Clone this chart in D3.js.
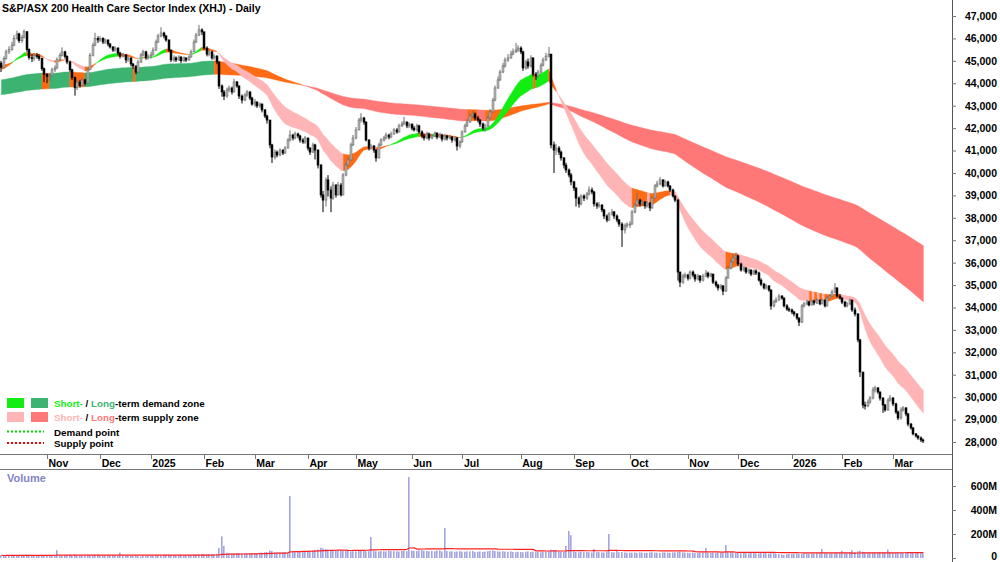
<!DOCTYPE html>
<html>
<head>
<meta charset="utf-8">
<script src="https://cdn.jsdelivr.net/npm/d3@7"></script>
<style>
  body { margin: 0; background: #fff; }
  svg { display: block; font-family: "Liberation Sans", Arial, sans-serif; }
</style>
</head>
<body>
<svg id="chart" width="1000" height="562"></svg>
<script>
// --- DATA --- daily bars per month: [close, high, low], open = previous close
const firstOpen = 44900;
const oct24 = [[44700,45000,44500],[45100,45200,44650],[45400,45500,45050],[45500,45650,45300],[45700,45850,45450],[46000,46150,45650],[46200,46350,45950],[45900,46250,45800],[46050,46150,45800],[46300,46400,46000],[45500,46300,45400],[45150,45550,45050],[45100,45300,44950],[45250,45350,45000],[45200,45350,45100],[45100,45300,45000],[44650,45150,44550],[44400,44700,44050]];
const nov24 = [[44300,44450,44000],[44350,44450,44100],[44600,44700,44300],[44680,44800,44500],[45050,45150,44650],[45250,45350,45000],[45400,45600,45200],[45200,45450,45100],[44950,45250,44850],[44600,45000,44500],[44250,44650,44150],[43800,44300,43450],[44050,44150,43700],[43900,44150,43800],[44150,44250,43850],[44000,44200,43900],[44600,44700,43950],[45250,45350,44600],[45700,45800,45200],[46000,46250,45650],[45930,46100,45800]];
const dec24 = [[46000,46100,45850],[45840,46050,45750],[45930,46000,45750],[45750,45950,45650],[45620,45800,45550],[45480,45650,45400],[45570,45650,45400],[45350,45600,45250],[45210,45400,45100],[45260,45350,45150],[45040,45300,44900],[45130,45200,44950],[44860,45150,44750],[44770,44900,44650],[44500,44800,44400],[44950,45050,44450],[45260,45350,44900],[45400,45500,45200],[45130,45450,45050],[45210,45300,45050]];
const jan25 = [[45260,45400,45100],[45480,45600,45250],[45840,45950,45450],[46110,46200,45800],[46240,46500,46050],[46110,46300,46000],[45930,46150,45850],[45480,45950,45400],[45040,45500,44950],[45130,45250,44950],[45040,45200,44950],[45170,45250,45000],[45000,45200,44900],[45130,45200,44950],[45040,45150,44950],[45170,45250,45000],[45400,45500,45150],[45840,45950,45400],[46150,46250,45800],[46380,46600,46100],[46290,46450,46150]];
const feb25 = [[45570,46300,45500],[45300,45650,45200],[45400,45500,45200],[45130,45450,45050],[45210,45300,45050],[44950,45250,44850],[43880,44950,43750],[43610,43950,43400],[43430,43700,43250],[43700,43800,43350],[43790,43900,43600],[43610,43850,43500],[44060,44200,43600],[43880,44100,43800],[43430,43900,43300],[43250,43500,43100],[43480,43550,43200],[43610,43700,43400],[43340,43650,43250],[43070,43400,43000]];
const mar25 = [[43160,43300,42950],[42990,43200,42900],[43070,43150,42900],[42810,43100,42700],[42540,42850,42450],[42360,42600,42200],[41250,42350,41100],[40710,41300,40450],[40930,41050,40600],[40800,41000,40700],[41020,41100,40750],[40890,41050,40800],[41110,41200,40850],[41470,41550,41100],[41690,41900,41400],[41560,41750,41450],[41740,41850,41500],[41650,41800,41550],[41470,41700,41350],[41380,41550,41300],[41560,41650,41300]];
const apr25 = [[41110,41550,41000],[40930,41150,40800],[41250,41350,40900],[41020,41300,40600],[40350,41050,40200],[39020,40400,38900],[38790,39200,38250],[39690,39800,38500],[39240,39900,38950],[38880,39400,38250],[39460,39600,38800],[39020,39500,38900],[39460,39600,39000],[39020,39550,38950],[39910,40000,39000],[40350,40450,39850],[40580,40700,40300],[41250,41350,40550],[41560,41700,41200]];
const may25 = [[41920,42050,41500],[42360,42450,41900],[42450,42670,42250],[42270,42500,42150],[41470,42300,41400],[41110,41500,41000],[41200,41300,41050],[41020,41250,40900],[40670,41050,40500],[41250,41350,40650],[41470,41550,41200],[41560,41650,41400],[41690,41800,41500],[41600,41750,41500],[41740,41850,41550],[41920,42000,41700],[41830,42000,41750],[42100,42200,41800],[42180,42300,42050],[42270,42500,42150],[42100,42300,42000],[42180,42250,42000]];
const jun25 = [[42000,42200,41900],[41920,42100,41850],[42100,42200,41850],[41830,42150,41750],[41650,41900,41550],[41560,41750,41450],[41740,41850,41500],[41560,41800,41450],[41650,41750,41500],[41780,41850,41600],[41600,41800,41500],[41690,41800,41550],[41510,41750,41400],[41650,41750,41450],[41560,41700,41450],[41600,41700,41500],[41470,41650,41350],[41560,41650,41400],[41200,41600,41000],[41380,41450,41100]];
const jul25 = [[41830,41900,41350],[42100,42200,41800],[42270,42400,42050],[42540,42650,42250],[42630,42800,42450],[42450,42700,42350],[42360,42550,42250],[42180,42400,42050],[42000,42250,41900],[42100,42200,41850],[42450,42550,42050],[42720,42850,42400],[43250,43350,42700],[43790,43900,43200],[44150,44300,43750],[44500,44600,44100],[44770,44900,44450],[45040,45150,44700],[45130,45300,44950],[45300,45450,45100],[45400,45550,45250],[45480,45800,45350],[45570,45700,45400]];
const aug25 = [[45400,45650,45300],[44680,45450,44550],[44950,45050,44600],[44770,45100,44650],[45130,45250,44700],[44410,45150,44300],[44320,44500,44150],[44500,44600,44250],[44810,44900,44450],[45040,45150,44750],[45210,45350,45000],[45300,45620,45150],[41250,45300,41100],[41020,41400,40000],[41110,41300,40800],[40930,41200,40800],[40670,41000,40550],[40350,40700,40200],[40130,40450,40000],[39910,40200,39800],[39600,40000,39450]];
const sep25 = [[39330,39650,39200],[38880,39350,38500],[38620,38950,38450],[38970,39050,38550],[38880,39050,38750],[39060,39150,38800],[39240,39400,39000],[39150,39350,39050],[38620,39200,38500],[38530,38700,38400],[38570,38700,38450],[38350,38600,38250],[38080,38400,37950],[37900,38150,37800],[38170,38250,37850],[38260,38400,38100],[38080,38300,37950],[37900,38150,37800],[37720,37950,37600],[37460,37800,36700],[37640,37750,37300],[37720,37800,37550]];
const oct25 = [[37720,37850,37550],[38260,38350,37700],[38570,38650,38200],[38790,39100,38500],[38620,38850,38500],[38700,38800,38550],[38530,38750,38400],[38660,38750,38450],[38440,38700,38300],[38880,38950,38400],[39420,39500,38850],[39510,39650,39350],[39690,39820,39450],[39420,39700,39350],[39600,39700,39400],[39420,39650,39350],[39240,39450,39150],[38970,39300,38900],[38790,39000,38700],[35580,38850,35200],[35130,35600,34910],[35400,35500,35050],[35450,35550,35300]];
const nov25 = [[35310,35500,35200],[35580,35650,35250],[35450,35650,35350],[35270,35500,35150],[35400,35500,35200],[35220,35450,35100],[35400,35500,35150],[35530,35670,35350],[35400,35600,35300],[35490,35550,35350],[35130,35500,35050],[35000,35200,34900],[34870,35050,34750],[34960,35050,34800],[34730,35000,34550],[35310,35400,34700],[35760,35850,35300],[36030,36150,35700],[36210,36400,36000],[36300,36450,36150]];
const dec25 = [[35940,36350,35850],[35670,36000,35600],[35760,35850,35600],[35580,35800,35500],[35670,35750,35500],[35490,35700,35400],[35630,35700,35450],[35540,35700,35450],[35220,35600,35150],[35040,35300,34950],[34870,35100,34800],[34960,35050,34800],[34780,35000,34700],[34070,34800,33900],[34250,34350,34000],[34330,34450,34200],[34510,34600,34300],[34420,34550,34350],[34070,34450,34000],[33930,34150,33850],[33890,34000,33800]];
const jan26 = [[33800,33950,33700],[33710,33850,33600],[33530,33750,33450],[33350,33550,33170],[34070,34150,33300],[34160,34250,34000],[34250,34350,34100],[34110,34300,34050],[34290,34350,34100],[34200,34350,34100],[34330,34420,34150],[34160,34350,34100],[34330,34400,34150],[34070,34350,34000],[34420,34500,34050],[34510,34600,34400],[34690,34800,34500],[34870,35090,34650],[34510,34900,34450],[34420,34600,34350]];
const feb26 = [[34240,34450,34150],[34070,34300,34000],[34160,34250,34000],[34330,34400,34100],[33890,34350,33800],[33710,34000,33600],[32550,33750,32450],[31120,32600,30900],[29650,31100,29500],[29610,29800,29450],[29780,29900,29550],[29960,30050,29700],[30320,30450,29900],[30410,30500,30200],[30230,30450,30150],[29960,30250,29850],[29650,30000,29300],[29430,29700,29350],[29870,29950,29400],[29960,30100,29800]];
const mar26 = [[29700,30000,29600],[29340,29750,29250],[29070,29400,28980],[29430,29550,29000],[29520,29600,29350],[29250,29550,29150],[28800,29300,28700],[28630,28850,28550],[28360,28650,28300],[28270,28400,28200],[28180,28300,28100],[28090,28250,28000],[28050,28150,27950]];

// daily volume in millions, per month
const volOct24 = [22,20,25,18,21,24,19,23,20,26,28,22,21,19,24,22,27,25];
const volNov24 = [24,21,23,26,65,22,20,25,23,27,24,30,22,21,25,23,26,24,22,28,30];
const volDec24 = [25,22,24,21,23,26,20,22,45,24,21,23,20,19,22,18,12,20,15,24];
const volJan25 = [20,22,25,24,23,26,28,27,25,24,22,26,25,23,24,27,26,28,30,29,32];
const volFeb25 = [34,30,32,31,33,35,85,180,100,45,40,38,36,42,40,38,39,42,36,40];
const volMar25 = [42,40,45,44,48,50,62,58,48,46,44,47,49,45,517,60,55,52,50,53,55];
const volApr25 = [58,62,60,65,70,85,80,75,72,68,66,64,60,58,62,60,58,55,57];
const volMay25 = [55,58,60,62,57,56,175,58,55,54,57,56,55,60,58,57,56,54,58,60,57,675];
const volJun25 = [62,60,58,63,66,60,58,57,59,56,62,64,55,250,58,54,56,52,55,57];
const volJul25 = [54,52,56,55,58,50,52,54,51,53,57,60,62,58,55,54,56,53,52,55,50,48,52];
const volAug25 = [50,48,52,55,50,53,49,51,47,50,52,55,70,65,58,55,52,50,100,225,190];
const volSep25 = [55,50,48,52,49,50,48,46,75,50,49,47,46,50,200,48,47,58,48,50,46,44];
const volOct25 = [45,44,46,43,47,45,42,44,46,48,45,44,43,47,46,45,44,46,48,50,55,47,45];
const volNov25 = [44,42,45,43,41,44,46,83,43,42,45,44,46,43,42,108,48,50,47,45];
const volDec25 = [42,40,43,41,39,42,44,40,38,41,43,39,37,40,50,38,36,30,25,32,35];
const volJan26 = [34,36,38,35,37,40,39,36,38,37,41,40,75,42,39,38,40,42,44,41];
const volFeb26 = [60,44,42,45,65,48,55,60,52,45,43,44,42,46,45,47,44,48,70,46];
const volMar26 = [45,43,46,44,42,47,45,43,44,46,42,44,40];

// month tick labels (first block is the partial October 2024, unlabeled)
const monthLabels = ["", "Nov", "Dec", "2025", "Feb", "Mar", "Apr", "May", "Jun", "Jul", "Aug", "Sep", "Oct", "Nov", "Dec", "2026", "Feb", "Mar"];
const priceMonths = [oct24, nov24, dec24, jan25, feb25, mar25, apr25, may25, jun25, jul25, aug25, sep25, oct25, nov25, dec25, jan26, feb26, mar26];
const volMonths = [volOct24, volNov24, volDec24, volJan25, volFeb25, volMar25, volApr25, volMay25, volJun25, volJul25, volAug25, volSep25, volOct25, volNov25, volDec25, volJan26, volFeb26, volMar26];

// zone averages: periods and starting values read at the left edge
const shortPeriods = [20, 35];
const longPeriods = [130, 240];
const shortSeeds = [44600, 44800];
const longSeeds = [44150, 43480];

const priceTicks = d3.range(28000, 47001, 1000);
const volumeTicks = [0, 200, 400, 600];

// --- BUILD ---
const bars = [];
const volumes = [];
const monthStarts = [];
priceMonths.forEach((m, k) => {
    monthStarts.push(bars.length);
    m.forEach(d => bars.push({ close: d[0], high: d[1], low: d[2] }));
    volMonths[k].forEach(v => volumes.push(v));
});
bars.forEach((b, i) => {
    b.i = i;
    b.open = i === 0 ? firstOpen : bars[i - 1].close;
    b.vol = volumes[i];
});
const n = bars.length;

function ema(period, seed) {
    const a = 2 / (period + 1);
    let prev = seed;
    return bars.map(b => (prev = a * b.close + (1 - a) * prev));
}
const shortFast = ema(shortPeriods[0], shortSeeds[0]);
const shortSlow = ema(shortPeriods[1], shortSeeds[1]);
const longFast = ema(longPeriods[0], longSeeds[0]);
const longSlow = ema(longPeriods[1], longSeeds[1]);

// 50 day average volume
const volAvg = volumes.map((v, i) => d3.mean(volumes.slice(Math.max(0, i - 49), i + 1)));

// --- RENDER ---
const svg = d3.select('#chart');
const axisX = 952;
const x = d3.scaleLinear().domain([0, n - 1]).range([1.4, 923.4]);
const y = d3.scaleLinear().domain([28000, 47000]).range([442, 16]);
const vy = d3.scaleLinear().domain([0, 600]).range([558, 486]);

const colors = {
    shortDemand: '#12ee12', longDemand: '#3cb371',
    shortSupply: '#ffb5b5', longSupply: '#ff7878',
    neutral: '#ff6a14'
};

svg.append('defs').append('clipPath').attr('id', 'pclip')
    .append('rect').attr('x', 0).attr('y', 0).attr('width', axisX).attr('height', 454);

const plot = svg.append('g').attr('clip-path', 'url(#pclip)');

function drawZone(fast, slow, seedFast, demand, supply) {
    // colour of the step from i-1 to i
    const col = i => {
        const prev = i === 0 ? seedFast : fast[i - 1];
        const rising = fast[i] >= prev;
        if (fast[i] > slow[i] && rising) return demand;
        if (fast[i] < slow[i] && !rising) return supply;
        return colors.neutral;
    };
    const runs = [];
    for (let i = 1; i < n; i++) {
        const c = col(i);
        const last = runs[runs.length - 1];
        if (last && last.c === c) last.end = i;
        else runs.push({ c, start: i - 1, end: i });
    }
    const area = d3.area()
        .x(i => x(i))
        .y0(i => y(slow[i]))
        .y1(i => y(fast[i]));
    plot.append('g').selectAll('path')
        .data(runs)
        .join('path')
        .attr('d', r => area(d3.range(r.start, r.end + 1)))
        .attr('fill', r => r.c)
        .attr('stroke', r => r.c)
        .attr('stroke-width', 0.4);
}
drawZone(longFast, longSlow, longSeeds[0], colors.longDemand, colors.longSupply);
drawZone(shortFast, shortSlow, shortSeeds[0], colors.shortDemand, colors.shortSupply);

// candles
const up = d => d.close >= d.open;
const candle = plot.append('g').selectAll('g')
    .data(bars)
    .join('g');
candle.append('rect')
    .attr('x', d => Math.round(x(d.i)) - 0.5)
    .attr('width', 1)
    .attr('y', d => y(d.high))
    .attr('height', d => Math.max(1, y(d.low) - y(d.high)))
    .attr('fill', d => up(d) ? '#707070' : '#000');
candle.append('rect')
    .attr('x', d => Math.round(x(d.i)) - 0.9)
    .attr('width', 1.8)
    .attr('y', d => y(Math.max(d.open, d.close)))
    .attr('height', d => Math.max(1, Math.abs(y(d.open) - y(d.close))))
    .attr('fill', d => up(d) ? '#cfcfcf' : '#000')
    .attr('stroke', d => up(d) ? '#707070' : '#000')
    .attr('stroke-width', 0.7);

// panel frame lines
svg.append('line').attr('x1', 0).attr('x2', axisX).attr('y1', 454.5).attr('y2', 454.5).attr('stroke', '#777');
svg.append('line').attr('x1', 0).attr('x2', axisX).attr('y1', 469.5).attr('y2', 469.5).attr('stroke', '#777');
svg.append('line').attr('x1', axisX + 0.5).attr('x2', axisX + 0.5).attr('y1', 0).attr('y2', 562).attr('stroke', '#555');

// price axis
const yAxis = svg.append('g')
    .attr('transform', `translate(${axisX},0)`)
    .call(d3.axisRight(y).tickValues(priceTicks).tickFormat(d3.format(',')).tickSize(4));
yAxis.select('.domain').remove();
yAxis.selectAll('line').attr('stroke', '#777');
yAxis.selectAll('text')
    .attr('x', 45).attr('text-anchor', 'end')
    .attr('font-size', 10.5).attr('font-weight', 'bold').attr('fill', '#000')
    .attr('font-family', '"Liberation Sans", Arial, sans-serif');

// month axis
const monthTicks = monthStarts.map((s, k) => ({ s, label: monthLabels[k] })).filter(d => d.label);
const mt = svg.append('g').selectAll('g').data(monthTicks).join('g');
mt.append('line')
    .attr('x1', d => Math.round(x(d.s)) + 0.5).attr('x2', d => Math.round(x(d.s)) + 0.5)
    .attr('y1', 455).attr('y2', 459).attr('stroke', '#777');
mt.append('text')
    .attr('x', d => x(d.s) + 1.5).attr('y', 467)
    .attr('font-size', 10.5).attr('font-weight', 'bold')
    .text(d => d.label);

// title
svg.append('text').attr('x', 2).attr('y', 12)
    .attr('font-size', 10.5).attr('font-weight', 'bold')
    .text('S&P/ASX 200 Health Care Sector Index (XHJ) - Daily');

// legend
const legend = svg.append('g').attr('font-size', 9.8).attr('font-weight', 'bold');
const legendRows = [
    { y: 403, boxes: [colors.shortDemand, colors.longDemand], parts: [['Short-', colors.shortDemand], [' / ', '#000'], ['Long', colors.longDemand], ['-term demand zone', '#000']] },
    { y: 417, boxes: [colors.shortSupply, colors.longSupply], parts: [['Short-', colors.shortSupply], [' / ', '#000'], ['Long', colors.longSupply], ['-term supply zone', '#000']] },
    { y: 431.5, dots: '#00dd00', parts: [['Demand point', '#000']] },
    { y: 443, dots: '#ee0000', parts: [['Supply point', '#000']] }
];
legendRows.forEach(r => {
    if (r.boxes) {
        r.boxes.forEach((c, k) => legend.append('rect')
            .attr('x', 7 + k * 24).attr('y', r.y - 5).attr('width', 17).attr('height', 10).attr('fill', c));
    }
    if (r.dots) {
        legend.append('line').attr('x1', 7).attr('x2', 44).attr('y1', r.y).attr('y2', r.y)
            .attr('stroke', r.dots).attr('stroke-width', 2).attr('stroke-dasharray', '2,2');
    }
    const t = legend.append('text').attr('x', 54).attr('y', r.y + 4);
    r.parts.forEach(p => t.append('tspan').attr('fill', p[1]).text(p[0]));
});

// --- VOLUME ---
svg.append('text').attr('x', 7).attr('y', 482)
    .attr('font-size', 11).attr('font-weight', 'bold').attr('fill', '#8484c4')
    .text('Volume');
svg.append('g').selectAll('rect')
    .data(bars)
    .join('rect')
    .attr('x', d => Math.round(x(d.i)) - 1)
    .attr('width', 1.6)
    .attr('y', d => vy(d.vol))
    .attr('height', d => vy(0) - vy(d.vol))
    .attr('fill', '#a4a4e2');
svg.append('path')
    .datum(volAvg)
    .attr('fill', 'none')
    .attr('stroke', '#ff2020')
    .attr('stroke-width', 1.2)
    .attr('d', d3.line().x((d, i) => x(i)).y(d => vy(d)));

const vAxis = svg.append('g')
    .attr('transform', `translate(${axisX},0)`)
    .call(d3.axisRight(vy).tickValues(volumeTicks).tickFormat(d => d ? d + 'M' : '0').tickSize(4));
vAxis.select('.domain').remove();
vAxis.selectAll('line').attr('stroke', '#777');
vAxis.selectAll('text')
    .attr('x', 45).attr('text-anchor', 'end')
    .attr('dy', d => d ? '0.32em' : '0.1em')
    .attr('font-size', 10.5).attr('font-weight', 'bold').attr('fill', '#000')
    .attr('font-family', '"Liberation Sans", Arial, sans-serif');
</script>
</body>
</html>
